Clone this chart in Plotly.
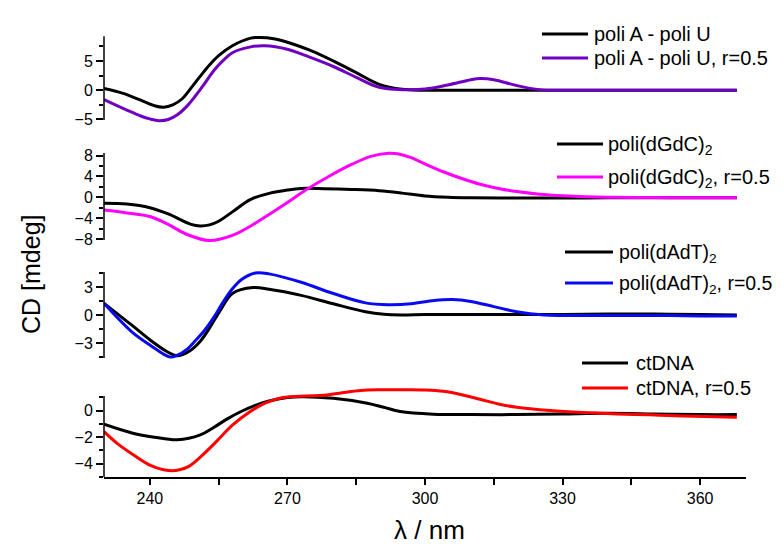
import plotly.graph_objects as go

# ---------------- data (wavelength in nm, CD in mdeg) ----------------
# Panel 1: poli A - poli U
wl_au = [230, 234, 238, 241, 243, 245, 247, 249, 251, 253, 255, 258, 262, 264, 267, 270, 275, 280, 285, 290, 295, 300, 310, 320, 330, 340, 350, 360, 368]
cd_au = [0.3, -0.5, -1.7, -2.65, -2.9, -2.5, -1.5, 0.4, 2.4, 4.3, 5.9, 7.6, 8.9, 9.0, 8.8, 8.2, 6.8, 5.0, 3.0, 1.0, 0.15, 0.0, 0.0, 0.0, 0.0, 0.0, 0.0, 0.0, 0.0]
wl_au_r = [230, 235, 238, 240, 242, 244, 246, 248, 250, 252, 254, 256, 258, 262, 265, 270, 275, 280, 285, 290, 295, 300, 305, 310, 312, 315, 320, 325, 330, 340, 350, 360, 368]
cd_au_r = [-1.6, -3.4, -4.4, -4.9, -5.2, -5.0, -4.2, -2.8, -0.9, 1.2, 3.4, 5.1, 6.4, 7.4, 7.6, 7.0, 5.6, 4.05, 2.2, 0.5, 0.1, 0.2, 0.9, 1.8, 2.0, 1.8, 0.8, 0.1, 0.0, 0.0, 0.0, 0.0, 0.0]

# Panel 2: poli(dGdC)2
wl_gc = [230, 235, 240, 244, 249, 251, 253, 255, 258, 262, 266, 270, 273, 278, 284, 290, 295, 300, 305, 310, 320, 330, 340, 350, 360, 368]
cd_gc = [-1.15, -1.3, -2.0, -3.2, -5.2, -5.5, -5.3, -4.6, -2.8, -0.4, 0.75, 1.4, 1.7, 1.65, 1.5, 1.25, 0.8, 0.25, 0.0, -0.1, -0.15, -0.15, -0.1, -0.1, -0.1, -0.1]
wl_gc_r = [230, 235, 240, 244, 248, 253, 258, 262, 266, 270, 274, 279, 284, 288, 292, 294, 297, 300, 304, 308, 312, 316, 320, 325, 330, 335, 340, 350, 360, 368]
cd_gc_r = [-2.45, -3.0, -3.7, -5.2, -7.1, -8.3, -7.3, -5.5, -3.3, -1.0, 1.4, 4.0, 6.3, 7.8, 8.45, 8.35, 7.6, 6.4, 4.9, 3.6, 2.5, 1.7, 1.1, 0.6, 0.3, 0.1, 0.0, -0.05, -0.1, -0.1]

# Panel 3: poli(dAdT)2
wl_at = [230, 236, 240, 243.7, 246, 248.5, 251, 253, 255.5, 258, 262.5, 266, 273, 280, 287, 291, 295, 300, 310, 320, 330, 340, 350, 360, 368]
cd_at = [1.25, -1.06, -2.65, -3.9, -4.35, -3.9, -2.8, -1.4, 0.6, 2.3, 2.93, 2.75, 2.1, 1.2, 0.35, 0.07, 0.0, 0.05, 0.05, 0.05, 0.05, 0.1, 0.1, 0.05, 0.0]
wl_at_r = [230, 236, 240, 244.4, 246, 248, 250, 252, 254, 256, 258, 260, 263, 266, 273, 280, 287, 292, 297, 302, 306, 310, 315, 320, 326, 330, 340, 350, 360, 368]
cd_at_r = [1.25, -1.77, -3.2, -4.5, -4.3, -3.7, -2.7, -1.6, -0.2, 1.4, 2.8, 3.8, 4.5, 4.4, 3.5, 2.3, 1.3, 1.1, 1.2, 1.55, 1.65, 1.45, 0.9, 0.35, 0.0, -0.05, -0.05, -0.05, -0.1, -0.1]

# Panel 4: ctDNA
wl_ct = [230, 236.3, 241, 246, 251, 254, 257, 260, 263, 266, 270, 273, 280, 287.4, 291, 294.6, 301.8, 310, 320, 330, 340, 350, 360, 368]
cd_ct = [-1.02, -1.7, -2.0, -2.2, -1.83, -1.25, -0.6, -0.05, 0.4, 0.72, 0.98, 1.05, 0.93, 0.56, 0.25, -0.07, -0.27, -0.3, -0.3, -0.25, -0.2, -0.25, -0.3, -0.3]
wl_ct_r = [230, 233, 236.3, 240, 243, 246, 248.5, 251, 254.6, 258, 261.9, 265, 269, 274, 278, 282, 286, 290, 296, 300, 304, 308, 312, 316, 320, 327.3, 334.5, 341.9, 349, 356.3, 368]
cd_ct_r = [-1.58, -2.5, -3.3, -4.1, -4.45, -4.5, -4.2, -3.5, -2.3, -1.1, -0.07, 0.55, 0.98, 1.1, 1.15, 1.35, 1.52, 1.57, 1.57, 1.55, 1.45, 1.2, 0.85, 0.5, 0.25, 0.0, -0.15, -0.25, -0.32, -0.4, -0.5]

names = ["poli A - poli U", "poli A - poli U, r=0.5",
         "poli(dGdC)<sub>2</sub>", "poli(dGdC)<sub>2</sub>, r=0.5",
         "poli(dAdT)<sub>2</sub>", "poli(dAdT)<sub>2</sub>, r=0.5",
         "ctDNA", "ctDNA, r=0.5"]
colors = ["#000000", "#7000C0", "#000000", "#FF00FF", "#000000", "#0A0AF0", "#000000", "#FF0000"]

series = [(wl_au, cd_au), (wl_au_r, cd_au_r), (wl_gc, cd_gc), (wl_gc_r, cd_gc_r),
          (wl_at, cd_at), (wl_at_r, cd_at_r), (wl_ct, cd_ct), (wl_ct_r, cd_ct_r)]
yaxes = ["y", "y", "y2", "y2", "y3", "y3", "y4", "y4"]

# ---------------- layout geometry (page pixels) ----------------
OFF = 8                       # default body margin of the html page
PAGE_W, PAGE_H = 783, 545
W, H = PAGE_W - OFF, PAGE_H - OFF
PL, PR, PT, PB = 104, 746, 34, 477  # plot area in page pixels
L, T = PL - OFF, PT - OFF
R, B = W - (PR - OFF), H - (PB - OFF)
PW, PH = PR - PL, PB - PT

def px(x):
    return (x - PL) / PW

def py(y):
    return (PB - y) / PH

# per panel: visible axis (top px, bottom px, top value, bottom value), drawn range, dtick, minor
panels = [
    (34, 120, 9.2, -5.1, (-5.6, 9.6), 5, 2.5),
    (153, 240, 8.5, -8.2, (-8.8, 8.9), 4, 2),
    (272, 358, 4.6, -4.6, (-5.0, 5.0), 3, 1.5),
    (396, 477, 1.1, -5.0, (-5.0, 1.9), 2, 1),
]

fig = go.Figure()
for (x, y), nm, c, ya in zip(series, names, colors, yaxes):
    fig.add_trace(go.Scatter(x=x, y=y, mode="lines", name=nm, yaxis=ya,
                             line=dict(color=c, width=3, shape="spline", smoothing=1.0),
                             showlegend=False, hoverinfo="skip"))

font = "Liberation Sans, Arial, sans-serif"

layout_axes = {}
shapes = []
for i, (pt, pb, vt, vb, (eb, et), dt, mn) in enumerate(panels):
    ppu = (pb - pt) / (vt - vb)
    top_px = pt - (et - vt) * ppu
    bot_px = pb + (vb - eb) * ppu
    key = "yaxis" if i == 0 else "yaxis%d" % (i + 1)
    layout_axes[key] = dict(
        domain=[max(0, py(bot_px)), min(1, py(top_px))], range=[eb, et], anchor="x",
        showline=False, ticks="outside", ticklen=7, tickwidth=1.5, tickcolor="black",
        tick0=0, dtick=dt, showgrid=False, zeroline=False,
        tickfont=dict(family=font, size=16, color="black"),
        minor=dict(ticks="outside", ticklen=4, tickwidth=1.5, tickcolor="black",
                   dtick=mn, tick0=0, showgrid=False))
    yref = "y" if i == 0 else "y%d" % (i + 1)
    shapes.append(dict(type="line", xref="paper", yref=yref, x0=0, x1=0, y0=vb, y1=vt,
                       line=dict(color="black", width=1.5)))

fig.update_layout(
    width=W, height=H,
    margin=dict(l=L, r=R, t=T, b=B),
    paper_bgcolor="white", plot_bgcolor="white",
    showlegend=False,
    xaxis=dict(range=[230, 370], anchor="y4", domain=[0, 1], showline=True, linecolor="black",
               linewidth=1.5, ticks="outside", ticklen=6, tickwidth=1.5, tickcolor="black",
               tick0=0, dtick=30, showgrid=False, zeroline=False,
               tickfont=dict(family=font, size=16, color="black"),
               minor=dict(ticks="outside", ticklen=6, tickwidth=1.5, tickcolor="black",
                          dtick=15, tick0=0, showgrid=False)),
    **layout_axes,
)

annotations = [
    dict(text="CD [mdeg]", x=px(31), y=py(275), xref="paper", yref="paper", textangle=-90,
         xanchor="center", yanchor="middle",
         showarrow=False, font=dict(family=font, size=25, color="black")),
    dict(text="λ / nm", x=px(430), y=py(530), xref="paper", yref="paper",
         xanchor="center", yanchor="middle",
         showarrow=False, font=dict(family=font, size=26, color="black")),
]

# manual legends per panel: (line x0, line x1, text x, row y's)
leg_pos = [(542, 588, 592, (34, 58)),
           (557, 603, 606, (144, 177)),
           (565, 613, 617, (252, 283)),
           (582, 628, 634, (363, 388))]
for i, (x0, x1, tx, ys) in enumerate(leg_pos):
    for j in range(2):
        k = 2 * i + j
        yy = ys[j]
        shapes.append(dict(type="line", xref="paper", yref="paper", x0=px(x0), x1=px(x1),
                           y0=py(yy), y1=py(yy), line=dict(color=colors[k], width=3)))
        off = 1 if "<sub>" in names[k] else 0
        annotations.append(dict(text=names[k], x=px(tx), y=py(yy + off), xref="paper", yref="paper",
                                xanchor="left", yanchor="middle", showarrow=False,
                                font=dict(family=font, size=20 if i != 2 else 19.5, color="black")))

fig.update_layout(annotations=annotations, shapes=shapes)
fig.write_html("out.html")
